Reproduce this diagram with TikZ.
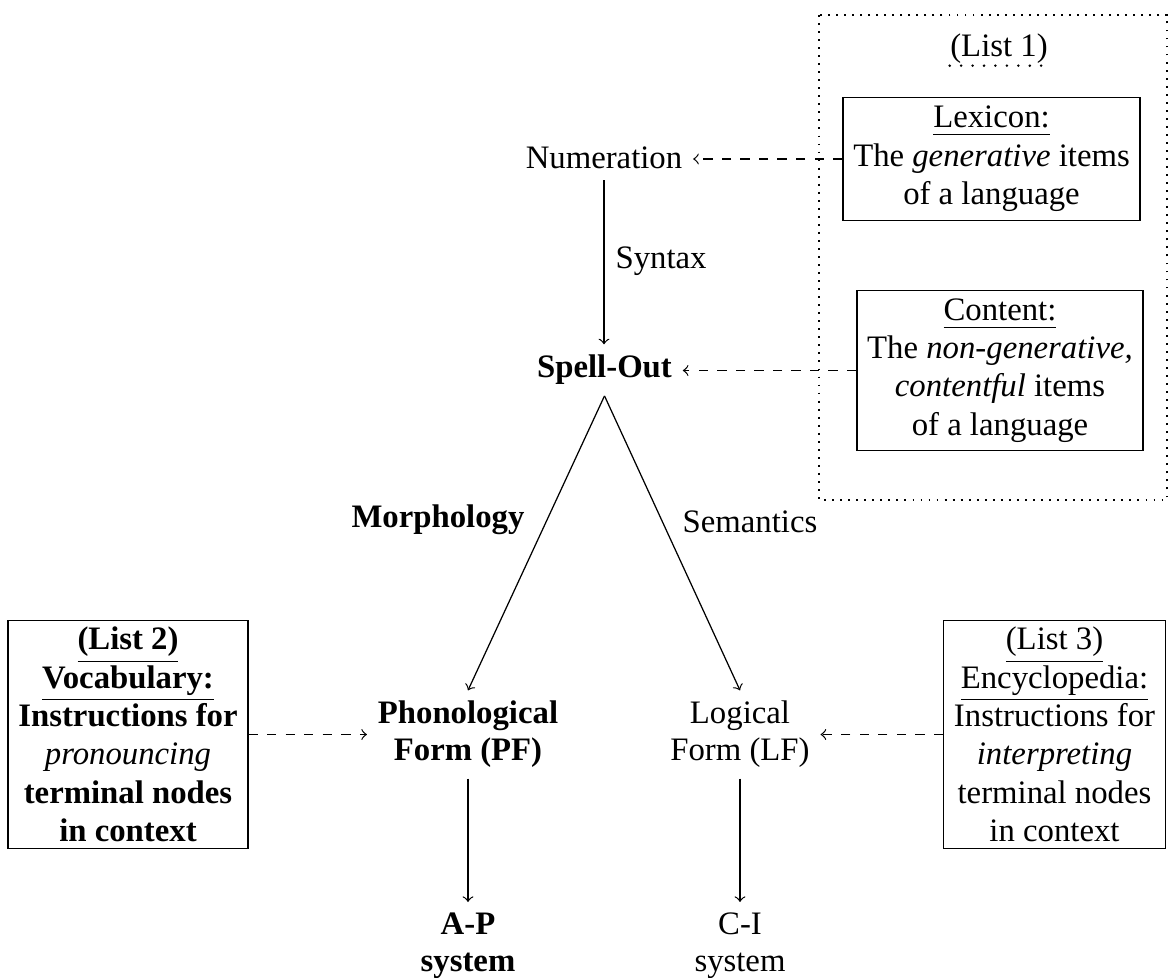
\documentclass[tikz,border=0pt]{standalone}
\usepackage{fontspec}
\setmainfont{Liberation Serif}
\usetikzlibrary{calc}
\newcommand\ulx[1]{\underline{#1\rule[-0.8pt]{0pt}{1pt}}}
\begin{document}
\begin{tikzpicture}[x=0.3236pt,y=-0.3236pt,
  every node/.style={font=\fontsize{10.6}{11.9}\selectfont},
  lbl/.style={inner sep=0pt},
  txt/.style={align=center},
  listbox/.style={draw, align=center, line width=0.4pt,
    font=\fontsize{10.6}{12.4}\selectfont},
  arr/.style={->},
  darr/.style={->, dashed},
]
\useasboundingbox (0,0) rectangle (1170,978);

% dotted frame of List 1
\draw[dotted, line width=0.6pt] (819,15) rectangle (1167,500);
\node[lbl, anchor=base] (list1) at (999,57) {(List 1)};
\draw[line width=0.9pt, line cap=round, dash pattern=on 0pt off 3.7pt]
  ([yshift=-2.8pt]list1.base west) -- ([yshift=-2.8pt]list1.base east);

% main nodes
\node[anchor=base] (num) at (604,169) {Numeration};
\node[anchor=base] (so) at (604.5,378) {\textbf{Spell-Out}};
\node[lbl, anchor=base west] (syn) at (615,269) {Syntax};
\node[lbl, anchor=base] (morph) at (438,527) {\textbf{Morphology}};
\node[lbl, anchor=base] (sem) at (750,533) {Semantics};
\node[txt] (pf) at (468,734.5) {\textbf{Phonological}\\\textbf{Form (PF)}};
\node[txt] (lf) at (740,734.5) {Logical\\Form (LF)};
\node[txt, anchor=north] (ap) at (468,902) {\textbf{A-P}\\\textbf{system}};
\node[txt, anchor=north] (ci) at (740,902) {C-I\\system};

% boxes
\node[listbox, inner ysep=2.8pt] (lex) at (991.5,159) {\ulx{Lexicon:}\\The \textit{generative} items\\of a language};
\node[listbox, inner ysep=2.6pt] (con) at (1000,370.5) {\ulx{Content:}\\The \textit{non-generative,}\\\textit{contentful} items\\of a language};
\node[listbox, inner ysep=2.1pt, font=\fontsize{10.6}{12.4}\selectfont\bfseries] (l2) at (128,734.5)
  {\ulx{(List 2)}\\\ulx{Vocabulary:}\\Instructions for\\{\normalfont\itshape pronouncing}\\terminal nodes\\in context};
\node[listbox, inner ysep=2.1pt] (l3) at (1054.5,734.5)
  {\ulx{(List 3)}\\\ulx{Encyclopedia:}\\Instructions for\\\textit{interpreting}\\terminal nodes\\in context};

% connectors
\draw[arr] (num.south) -- (num.south |- so.north);
\draw[darr] (lex.west) -- (lex.west -| num.east);
\draw[darr] (con.west) -- (con.west -| so.east);
\draw[arr] (so.south) -- (pf.north);
\draw[arr] (so.south) -- (lf.north);
\draw[arr] (pf.south) -- (ap.north);
\draw[arr] (lf.south) -- (ci.north);
\draw[darr] (l2.east) -- (l2.east -| pf.west);
\draw[darr] (l3.west) -- (l3.west -| lf.east);
\end{tikzpicture}
\end{document}
